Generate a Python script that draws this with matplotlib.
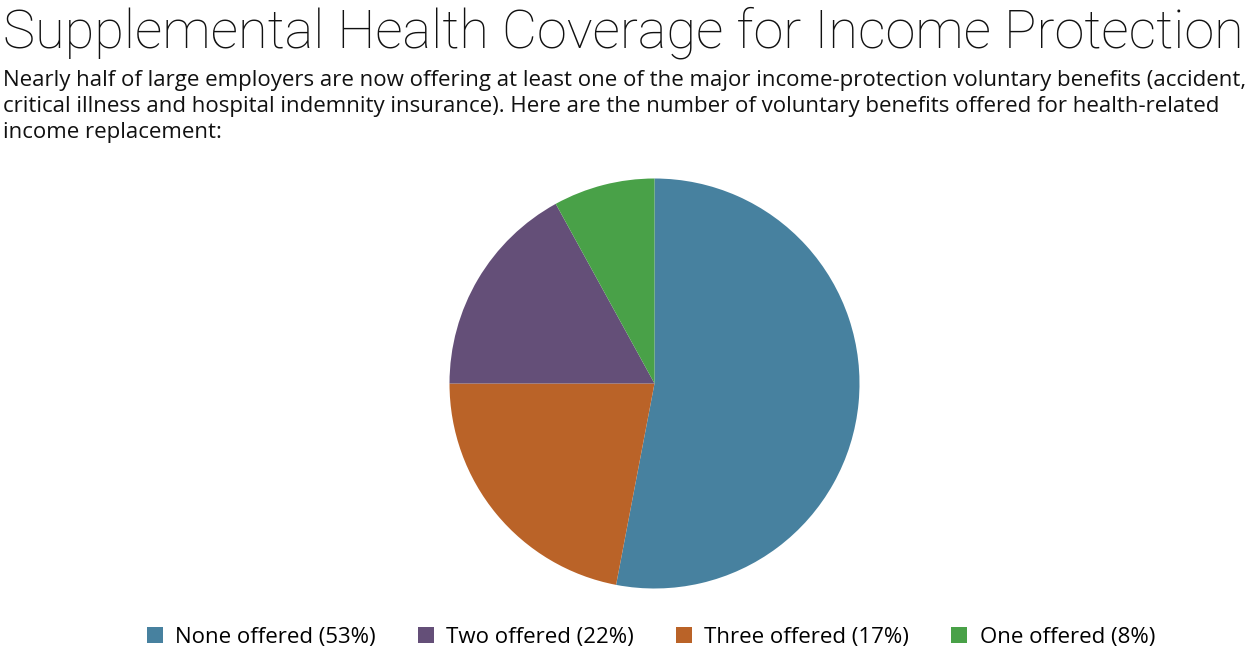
import matplotlib
matplotlib.use("Agg")
import matplotlib.pyplot as plt
from matplotlib.patches import Patch

# slice order as drawn, clockwise from 12 o'clock
slice_values = [53, 22, 17, 8]
slice_colors = ["#47819f", "#ba6328", "#644f78", "#49a148"]

# legend entries as shown under the chart
legend_labels = ["None offered (53%)", "Two offered (22%)", "Three offered (17%)", "One offered (8%)"]
legend_colors = ["#47819f", "#644f78", "#ba6328", "#49a148"]

title = "Supplemental Health Coverage for Income Protection"
subtitle = ("Nearly half of large employers are now offering at least one of the major income-protection voluntary benefits (accident,\n"
            "critical illness and hospital indemnity insurance). Here are the number of voluntary benefits offered for health-related\n"
            "income replacement:")

W, H = 1257, 654
fig = plt.figure(figsize=(W / 100, H / 100), dpi=100)

fig.text(3 / W, 1 - 6 / H, title, ha="left", va="top", fontsize=39,
         family="Roboto", weight=100, color="#111111")
fig.text(3 / W, 1 - 70 / H, subtitle, ha="left", va="top", fontsize=16,
         family="Open Sans", color="#111111", linespacing=1.32)

# pie: centre ~ (654, 383), radius ~205 px
r = 205
cx, cy = 654.5, 383.5
ax = fig.add_axes([(cx - r) / W, (H - cy - r) / H, 2 * r / W, 2 * r / H])
ax.pie(slice_values, colors=slice_colors, startangle=90, counterclock=False,
       radius=1, wedgeprops=dict(linewidth=0))
ax.set_xlim(-1, 1)
ax.set_ylim(-1, 1)
ax.set_aspect("equal")
ax.axis("off")

handles = [Patch(facecolor=c, edgecolor="none") for c in legend_colors]
fig.legend(handles, legend_labels, loc="center", bbox_to_anchor=(651 / W, 1 - 637 / H),
           ncol=4, frameon=False, prop=dict(family="Open Sans", size=16),
           handlelength=0.72, handleheight=0.72, handletextpad=0.55, columnspacing=1.9)

fig.savefig("out.png", dpi=100)
